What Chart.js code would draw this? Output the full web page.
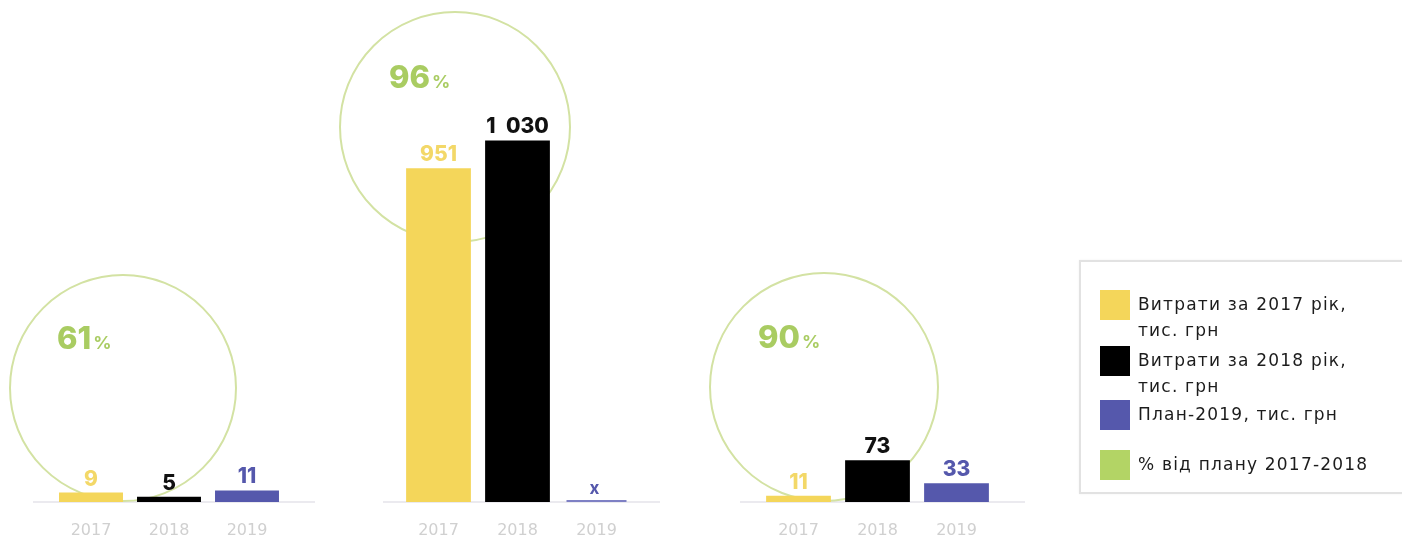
<!DOCTYPE html>
<html lang="uk">
<head>
<meta charset="utf-8">
<title>Витрати та план</title>
<script src="https://cdn.jsdelivr.net/npm/chart.js@4.4.1/dist/chart.umd.min.js"></script>
<style>
  html, body { margin: 0; padding: 0; background: #fff; }
  #stage { position: relative; width: 1402px; height: 540px; overflow: hidden; }
  #stage canvas { position: absolute; left: 0; top: 0; }
  #legend {
    position: absolute; left: 1079px; top: 260px; width: 340px; height: 234px;
    border: 2px solid #e2e2e2; border-right: none; box-sizing: border-box;
    box-shadow: 0 0 2px rgba(0,0,0,0.06);
    font-family: "DejaVu Sans", sans-serif; font-size: 17px; color: #1c1c1c;
  }
  .item { position: absolute; left: 19px; }
  .swatch { position: absolute; left: 0; top: 0; width: 30px; height: 30px; }
  .label { position: absolute; left: 38px; top: 1px; line-height: 26px; white-space: nowrap; letter-spacing: 1.2px; }
</style>
</head>
<body>
<div id="stage">
  <canvas id="panel1" width="1402" height="540"></canvas>
  <canvas id="panel2" width="1402" height="540"></canvas>
  <canvas id="panel3" width="1402" height="540"></canvas>
  <div id="legend"></div>
</div>
<script>
// Years on each panel's axis
const yearLabels = ['2017', '2018', '2019'];
// Spending per panel, thousand UAH
const spend2017 = [9, 951, 11];
const spend2018 = [5, 1030, 73];
// Plan for 2019 (null = no plan, marked "x")
const plan2019 = [11, null, 33];
// Share of plan fulfilled in 2017-2018, %
const planShare = [61, 96, 90];

const seriesNames = [
  'Витрати за 2017 рік,<br>тис. грн',
  'Витрати за 2018 рік,<br>тис. грн',
  'План-2019, тис. грн',
  '% від плану 2017-2018'
];
const seriesColors = ['#F4D65A', '#000000', '#5558AC', '#B3D465'];
const labelColors = ['#F3D868', '#111111', '#5558AC'];

// Placement of the three panels on the shared stage
const panels = [
  { canvas: 'panel1', areaLeft: 52,  areaRight: 286, lineFrom: 33,  lineTo: 315,  yMax: 480,  ring: { x: 123, y: 388, r: 113 } },
  { canvas: 'panel2', areaLeft: 399, areaRight: 636, lineFrom: 383, lineTo: 660,  yMax: 1430, ring: { x: 455, y: 127, r: 115 } },
  { canvas: 'panel3', areaLeft: 759, areaRight: 996, lineFrom: 740, lineTo: 1025, yMax: 880,  ring: { x: 824, y: 387, r: 114 } }
];

const numFont = '"Inter", "DejaVu Sans", sans-serif';

function formatValue(v) {
  return String(v).replace(/\B(?=(\d{3})+(?!\d))/g, '\u2002');
}

function makeDecor(panel, share) {
  return {
    id: 'panelDecor',
    beforeDatasetsDraw(chart) {
      const ctx = chart.ctx;
      const base = chart.scales.y.getPixelForValue(0);
      ctx.save();
      // baseline
      ctx.strokeStyle = '#E4E3EA';
      ctx.lineWidth = 1.5;
      ctx.beginPath();
      ctx.moveTo(panel.lineFrom, base);
      ctx.lineTo(panel.lineTo, base);
      ctx.stroke();
      // plan-fulfilment ring
      ctx.strokeStyle = '#D3E2A3';
      ctx.lineWidth = 2;
      ctx.beginPath();
      ctx.arc(panel.ring.x, panel.ring.y, panel.ring.r, 0, Math.PI * 2);
      ctx.stroke();
      // percentage
      const tx = panel.ring.x - 66;
      const ty = panel.ring.y - 50;
      ctx.fillStyle = '#A9CC62';
      ctx.textBaseline = 'alphabetic';
      ctx.textAlign = 'left';
      ctx.font = '800 31px ' + numFont;
      const numText = String(share);
      ctx.fillText(numText, tx, ty + 11);
      const w = ctx.measureText(numText).width;
      ctx.font = '700 18px ' + numFont;
      ctx.fillText('%', tx + w + 2, ty + 11);
      ctx.restore();
    },
    afterDatasetsDraw(chart) {
      const ctx = chart.ctx;
      const ds = chart.data.datasets[0];
      const xs = chart.scales.x, ys = chart.scales.y;
      const base = ys.getPixelForValue(0);
      ctx.save();
      ctx.textAlign = 'center';
      ctx.textBaseline = 'alphabetic';
      ds.data.forEach((v, i) => {
        const x = xs.getPixelForValue(i);
        ctx.fillStyle = labelColors[i];
        if (v === null) {
          // no plan: short stub on the baseline and an "x"
          ctx.strokeStyle = '#7E80C4';
          ctx.lineWidth = 2;
          ctx.beginPath();
          ctx.moveTo(x - 30, base - 1);
          ctx.lineTo(x + 30, base - 1);
          ctx.stroke();
          ctx.font = '700 17px ' + numFont;
          ctx.fillText('x', x - 2, base - 8);
        } else {
          const top = ys.getPixelForValue(v);
          ctx.font = '800 21px ' + numFont;
          ctx.fillText(formatValue(v), x, top - 7);
        }
      });
      ctx.restore();
    }
  };
}

panels.forEach((panel, g) => {
  const values = [spend2017[g], spend2018[g], plan2019[g]];
  new Chart(document.getElementById(panel.canvas), {
    type: 'bar',
    data: {
      labels: yearLabels,
      datasets: [{
        data: values,
        backgroundColor: seriesColors.slice(0, 3),
        borderWidth: 0,
        barPercentage: 0.82,
        categoryPercentage: 1
      }]
    },
    options: {
      responsive: false,
      animation: false,
      events: [],
      layout: { padding: { left: panel.areaLeft, right: 1402 - panel.areaRight, top: 0, bottom: 1 } },
      plugins: { legend: { display: false }, tooltip: { enabled: false } },
      scales: {
        x: {
          grid: { display: false, drawTicks: false },
          border: { display: false },
          ticks: { color: '#D0D0D0', padding: 19, font: { family: '"DejaVu Sans", sans-serif', size: 16 } },
          afterFit(scale) { scale.height = 37; }
        },
        y: { display: false, min: 0, max: panel.yMax }
      }
    },
    plugins: [makeDecor(panel, planShare[g])]
  });
});

// Legend
const legend = document.getElementById('legend');
const itemTops = [28, 84, 138, 188];
seriesNames.forEach((name, i) => {
  const item = document.createElement('div');
  item.className = 'item';
  item.style.top = itemTops[i] + 'px';
  item.innerHTML = '<div class="swatch" style="background:' + seriesColors[i] + '"></div>' +
                   '<div class="label">' + name + '</div>';
  legend.appendChild(item);
});
</script>
</body>
</html>
